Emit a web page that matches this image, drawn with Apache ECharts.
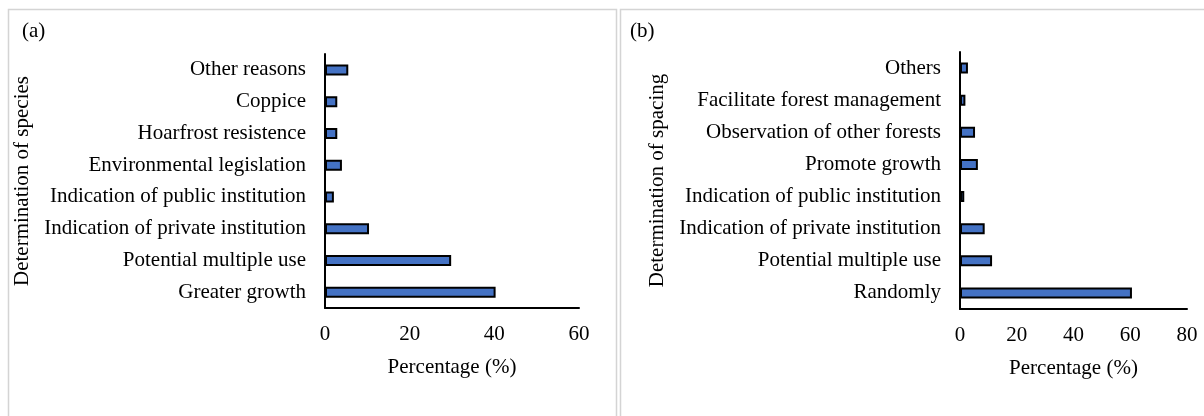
<!DOCTYPE html>
<html>

<head>
    <meta charset="UTF-8">
    <script src="https://cdn.jsdelivr.net/npm/echarts@6/dist/echarts.min.js"></script>
    <style>
        html, body { margin: 0; padding: 0; background: #fff; }
    </style>
</head>

<body>
    <div id="main" style="width: 1204px;height:416px"></div>
    <script>
    // (a) 树种选择原因
    var speciesCats = ['Other reasons', 'Coppice', 'Hoarfrost resistence', 'Environmental legislation',
        'Indication of public institution', 'Indication of private institution', 'Potential multiple use', 'Greater growth'];
    var speciesVals = [5.5, 2.9, 2.9, 4.0, 2.1, 10.4, 29.8, 40.3];
    var speciesTicks = [0, 20, 40, 60];

    // (b) 株行距选择原因
    var spacingCats = ['Others', 'Facilitate forest management', 'Observation of other forests', 'Promote growth',
        'Indication of public institution', 'Indication of private institution', 'Potential multiple use', 'Randomly'];
    var spacingVals = [2.8, 1.9, 5.3, 6.3, 1.5, 8.7, 11.3, 60.6];
    var spacingTicks = [0, 20, 40, 60, 80];

    var font = 'Liberation Serif';
    var fs = 21;

    function xAxisOf(gridIndex, ticks) {
        return {
            type: 'value',
            gridIndex: gridIndex,
            min: ticks[0],
            max: ticks[ticks.length - 1],
            interval: ticks[1] - ticks[0],
            name: 'Percentage (%)',
            nameLocation: 'middle',
            nameGap: 49,
            nameTextStyle: { color: '#000', fontFamily: font, fontSize: fs },
            axisLine: { show: true, lineStyle: { color: '#000', width: 2 } },
            axisTick: { show: false },
            splitLine: { show: false },
            axisLabel: { color: '#000', fontFamily: font, fontSize: fs, margin: 16 }
        };
    }

    function yAxisOf(gridIndex, cats, title) {
        return {
            type: 'category',
            gridIndex: gridIndex,
            data: cats,
            inverse: true, // 第一项在最上面
            name: title,
            nameLocation: 'middle',
            nameGap: 292,
            nameTextStyle: { color: '#000', fontFamily: font, fontSize: fs },
            axisLine: { show: true, lineStyle: { color: '#000', width: 2 } },
            axisTick: { show: false },
            axisLabel: { color: '#000', fontFamily: font, fontSize: fs, margin: 19 }
        };
    }

    function barOf(idx, vals) {
        return {
            type: 'bar',
            xAxisIndex: idx,
            yAxisIndex: idx,
            data: vals,
            barWidth: 11,
            itemStyle: { color: '#4472C4', borderColor: '#000', borderWidth: 2 }
        };
    }

    var option = {
        animation: false,
        backgroundColor: '#fff',
        grid: [
            { left: 325, top: 54, width: 254, height: 254 },
            { left: 960, top: 52, width: 227, height: 257 }
        ],
        xAxis: [xAxisOf(0, speciesTicks), xAxisOf(1, spacingTicks)],
        yAxis: [yAxisOf(0, speciesCats, 'Determination of species'), yAxisOf(1, spacingCats, 'Determination of spacing')],
        series: [barOf(0, speciesVals), barOf(1, spacingVals)],
        graphic: [
            // 面板边框
            { type: 'rect', shape: { x: 8.5, y: 9.5, width: 608, height: 420 }, style: { fill: 'none', stroke: '#d4d4d4', lineWidth: 1.5 }, z: -1 },
            { type: 'rect', shape: { x: 620.5, y: 9.5, width: 600, height: 420 }, style: { fill: 'none', stroke: '#d4d4d4', lineWidth: 1.5 }, z: -1 },
            { type: 'text', left: 22, top: 21, style: { text: '(a)', fill: '#000', font: fs + 'px "' + font + '"' } },
            { type: 'text', left: 630, top: 21, style: { text: '(b)', fill: '#000', font: fs + 'px "' + font + '"' } }
        ]
    };

    var myChart = echarts.init(document.getElementById('main'));
    myChart.setOption(option);
    </script>
</body>

</html>
